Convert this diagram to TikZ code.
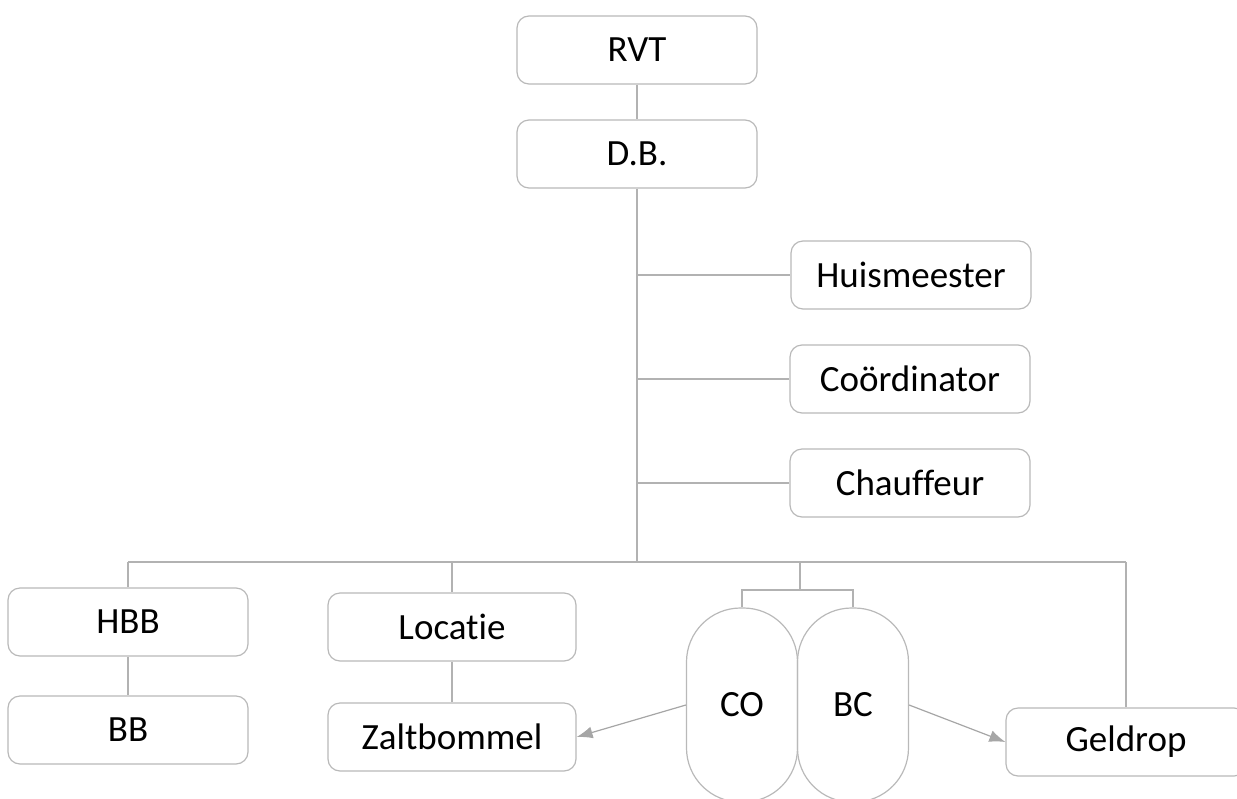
\documentclass[tikz,border=0pt]{standalone}
\usepackage{fontspec}
\setmainfont{Carlito}[Ligatures=NoCommon]
\usepackage{tikz}
\usetikzlibrary{arrows.meta}

\begin{document}
\begin{tikzpicture}[x=0.5pt,y=-0.5pt,font=\fontsize{18.5}{22}\selectfont,
        caja/.style={draw=gray!55,line width=0.6pt,rounded corners=6pt,minimum width=120pt,minimum height=34pt,inner sep=0pt},
        capsula/.style={draw=gray!55,line width=0.6pt,rounded corners=27pt,minimum width=55.5pt,minimum height=97pt,inner sep=0pt},
        lijn/.style={draw=gray!60,line width=0.6pt},
        pijl/.style={lijn,-{Latex[length=8pt,width=6pt]},color=gray!70}]
        \useasboundingbox (0,0) rectangle (1237,798);

        % Bestuur bovenaan
        \node[caja] (rvt) at (637,50) {RVT};
        \node[caja] (db) at (637,154) {D.B.};

        % Staf rechts van de lijn
        \node[caja] (huis) at (911,275) {Huismeester};
        \node[caja] (coord) at (910,379) {Coördinator};
        \node[caja] (chauf) at (910,483) {Chauffeur};

        % Onderste rij
        \node[caja] (hbb) at (128,622) {HBB};
        \node[caja] (bb) at (128,730) {BB};
        \node[caja,minimum width=124pt] (locatie) at (452,627) {Locatie};
        \node[caja,minimum width=124pt] (zalt) at (452,737) {Zaltbommel};
        \node[capsula] (co) at (742,705) {CO};
        \node[capsula] (bc) at (853,705) {BC};
        \node[caja] (geldrop) at (1126,742) {Geldrop};

        % Hoofdlijn en horizontale lijn
        \coordinate (bus) at (635,562);
        \draw[lijn] (rvt) -- (db);
        \draw[lijn] (db.south) -- (db.south |- bus);
        \draw[lijn] (db.south |- huis) -- (huis.west);
        \draw[lijn] (db.south |- coord) -- (coord.west);
        \draw[lijn] (db.south |- chauf) -- (chauf.west);
        \draw[lijn] (hbb.north |- bus) -- (geldrop.north |- bus);

        % Takken naar beneden
        \draw[lijn] (hbb.north |- bus) -- (hbb.north);
        \draw[lijn] (locatie.north |- bus) -- (locatie.north);
        \draw[lijn] (geldrop.north |- bus) -- (geldrop.north);
        \draw[lijn] (hbb) -- (bb);
        \draw[lijn] (locatie) -- (zalt);
        \coordinate (klem) at (800,590);
        \draw[lijn] (klem |- bus) -- (klem);
        \draw[lijn] (co.north) -- (co.north |- klem) -- (bc.north |- klem) -- (bc.north);

        % Pijlen naar de locaties
        \draw[pijl] (co.west) -- (zalt.east);
        \draw[pijl] (bc.east) -- (geldrop.west);
    \end{tikzpicture}
\end{document}
